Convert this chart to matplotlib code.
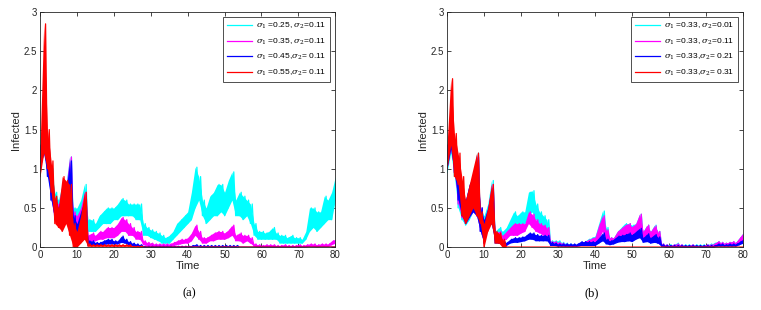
import numpy as np
import matplotlib
matplotlib.use("Agg")
from matplotlib import pyplot as plt

plt.rcParams['font.family'] = ['Liberation Sans', 'DejaVu Sans']
plt.rcParams['mathtext.fontset'] = 'dejavuserif'

# time grid (one reading per unit of time), lower / upper edge of each noisy path
time = np.arange(0, 81)

# ---------------- panel (a): sigma_2 = 0.11, sigma_1 varies
a_cyan_lo = [1.0, 1.2, 1.0, 0.6, 0.4, 0.3, 0.4, 0.4, 0.4, 0.3,
             0.2, 0.3, 0.4, 0.2, 0.2, 0.2, 0.25, 0.3, 0.3, 0.3,
             0.35, 0.35, 0.4, 0.4, 0.4, 0.4, 0.35, 0.35, 0.15, 0.15,
             0.12, 0.1, 0.08, 0.05, 0.05, 0.05, 0.1, 0.15, 0.2, 0.25,
             0.3, 0.35, 0.5, 0.6, 0.4, 0.3, 0.35, 0.4, 0.4, 0.45,
             0.4, 0.5, 0.6, 0.4, 0.4, 0.35, 0.4, 0.3, 0.15, 0.1,
             0.1, 0.1, 0.1, 0.1, 0.1, 0.05, 0.05, 0.05, 0.05, 0.05,
             0.05, 0.05, 0.1, 0.2, 0.25, 0.2, 0.25, 0.3, 0.35, 0.35,
             0.6]
a_cyan_hi = [1.3, 1.5, 1.3, 1.0, 0.7, 0.6, 0.8, 0.8, 1.15, 0.5,
             0.5, 0.6, 0.8, 0.35, 0.35, 0.3, 0.4, 0.45, 0.5, 0.5,
             0.5, 0.55, 0.62, 0.6, 0.55, 0.55, 0.55, 0.55, 0.3, 0.25,
             0.22, 0.2, 0.18, 0.15, 0.12, 0.15, 0.2, 0.3, 0.35, 0.4,
             0.45, 0.7, 1.02, 0.9, 0.6, 0.5, 0.65, 0.7, 0.8, 0.8,
             0.7, 0.85, 0.96, 0.6, 0.7, 0.65, 0.6, 0.55, 0.3, 0.2,
             0.2, 0.18, 0.2, 0.25, 0.18, 0.15, 0.15, 0.12, 0.15, 0.12,
             0.12, 0.1, 0.2, 0.5, 0.5, 0.45, 0.45, 0.65, 0.6, 0.7,
             0.9]
a_mag_lo = [1.0, 1.2, 1.0, 0.6, 0.35, 0.3, 0.35, 0.4, 0.35, 0.2,
            0.1, 0.2, 0.3, 0.05, 0.08, 0.08, 0.1, 0.1, 0.12, 0.12,
            0.12, 0.15, 0.2, 0.2, 0.15, 0.15, 0.1, 0.1, 0.03, 0.02,
            0.02, 0.01, 0.01, 0.01, 0.01, 0.01, 0.02, 0.03, 0.04, 0.05,
            0.05, 0.08, 0.15, 0.1, 0.05, 0.05, 0.08, 0.08, 0.1, 0.1,
            0.1, 0.12, 0.15, 0.08, 0.08, 0.05, 0.08, 0.05, 0.01, 0.0,
            0.0, 0.0, 0.0, 0.0, 0.0, 0.0, 0.0, 0.0, 0.0, 0.0,
            0.0, 0.0, 0.0, 0.01, 0.01, 0.0, 0.01, 0.01, 0.01, 0.03,
            0.05]
a_mag_hi = [1.3, 1.5, 1.3, 0.9, 0.6, 0.55, 0.8, 0.75, 1.15, 0.45,
            0.4, 0.5, 0.7, 0.15, 0.18, 0.15, 0.2, 0.2, 0.25, 0.25,
            0.25, 0.3, 0.38, 0.35, 0.3, 0.25, 0.2, 0.2, 0.08, 0.06,
            0.05, 0.04, 0.04, 0.04, 0.04, 0.04, 0.06, 0.08, 0.1, 0.1,
            0.12, 0.18, 0.28, 0.2, 0.12, 0.12, 0.15, 0.18, 0.2, 0.2,
            0.18, 0.22, 0.28, 0.15, 0.18, 0.15, 0.15, 0.12, 0.04, 0.03,
            0.02, 0.03, 0.03, 0.03, 0.02, 0.02, 0.03, 0.02, 0.02, 0.02,
            0.03, 0.02, 0.03, 0.04, 0.04, 0.03, 0.04, 0.04, 0.04, 0.08,
            0.1]
a_blue_lo = [1.0, 1.2, 0.9, 0.6, 0.35, 0.3, 0.3, 0.35, 0.3, 0.1,
             0.05, 0.15, 0.2, 0.02, 0.03, 0.02, 0.02, 0.03, 0.04, 0.04,
             0.04, 0.04, 0.06, 0.05, 0.03, 0.02, 0.01, 0.01, 0.0, 0.0,
             0.0, 0.0, 0.0, 0.0, 0.0, 0.0, 0.0, 0.0, 0.0, 0.0,
             0.0, 0.0, 0.01, 0.0, 0.0, 0.0, 0.0, 0.0, 0.0, 0.0,
             0.0, 0.0, 0.0, 0.0, 0.0, 0.0, 0.0, 0.0, 0.0, 0.0,
             0.0, 0.0, 0.0, 0.0, 0.0, 0.0, 0.0, 0.0, 0.0, 0.0,
             0.0, 0.0, 0.0, 0.0, 0.0, 0.0, 0.0, 0.0, 0.0, 0.0,
             0.0]
a_blue_hi = [1.3, 1.45, 1.2, 0.85, 0.6, 0.5, 0.75, 0.7, 1.1, 0.4,
             0.3, 0.45, 0.6, 0.08, 0.08, 0.06, 0.06, 0.08, 0.1, 0.1,
             0.08, 0.08, 0.14, 0.1, 0.07, 0.05, 0.04, 0.03, 0.01, 0.01,
             0.01, 0.01, 0.01, 0.01, 0.01, 0.01, 0.01, 0.01, 0.01, 0.01,
             0.01, 0.02, 0.03, 0.02, 0.02, 0.02, 0.02, 0.02, 0.02, 0.02,
             0.02, 0.02, 0.02, 0.02, 0.0, 0.0, 0.0, 0.0, 0.0, 0.0,
             0.0, 0.0, 0.0, 0.0, 0.0, 0.0, 0.0, 0.0, 0.0, 0.0,
             0.0, 0.0, 0.0, 0.0, 0.0, 0.0, 0.0, 0.0, 0.0, 0.0,
             0.0]
a_red_lo = [0.9, 1.2, 1.0, 0.7, 0.3, 0.25, 0.2, 0.3, 0.15, 0.0,
            0.0, 0.05, 0.1, 0.01, 0.01, 0.01, 0.01, 0.01, 0.01, 0.01,
            0.01, 0.01, 0.01, 0.01, 0.01, 0.0, 0.0, 0.0, 0.0, 0.0,
            0.0, 0.0, 0.0, 0.0, 0.0, 0.0, 0.0, 0.0, 0.0, 0.0,
            0.0, 0.0, 0.0, 0.0, 0.0, 0.0, 0.0, 0.0, 0.0, 0.0,
            0.0, 0.0, 0.0, 0.0, 0.0, 0.0, 0.0, 0.0, 0.0, 0.0,
            0.0, 0.0, 0.0, 0.0, 0.0, 0.0, 0.0, 0.0, 0.0, 0.0,
            0.0, 0.0, 0.0, 0.0, 0.0, 0.0, 0.0, 0.0, 0.0, 0.0,
            0.0]
a_red_hi = [1.25, 2.85, 1.5, 1.1, 0.65, 0.5, 0.9, 0.85, 0.8, 0.3,
            0.2, 0.4, 0.7, 0.04, 0.03, 0.03, 0.03, 0.03, 0.03, 0.03,
            0.03, 0.03, 0.03, 0.03, 0.03, 0.01, 0.01, 0.01, 0.0, 0.0,
            0.0, 0.0, 0.0, 0.0, 0.0, 0.0, 0.0, 0.0, 0.0, 0.0,
            0.0, 0.0, 0.0, 0.0, 0.0, 0.0, 0.0, 0.0, 0.0, 0.0,
            0.0, 0.0, 0.0, 0.0, 0.0, 0.0, 0.0, 0.0, 0.0, 0.0,
            0.0, 0.0, 0.0, 0.0, 0.0, 0.0, 0.0, 0.0, 0.0, 0.0,
            0.0, 0.0, 0.0, 0.0, 0.0, 0.0, 0.0, 0.0, 0.0, 0.0,
            0.0]

# ---------------- panel (b): sigma_1 = 0.33, sigma_2 varies
b_cyan_lo = [0.95, 1.2, 0.9, 0.5, 0.35, 0.28, 0.35, 0.45, 0.4, 0.2,
             0.05, 0.25, 0.3, 0.1, 0.12, 0.1, 0.15, 0.2, 0.25, 0.25,
             0.3, 0.3, 0.4, 0.45, 0.35, 0.3, 0.25, 0.2, 0.03, 0.03,
             0.03, 0.02, 0.02, 0.01, 0.01, 0.01, 0.02, 0.03, 0.04, 0.05,
             0.06, 0.1, 0.25, 0.1, 0.05, 0.05, 0.08, 0.1, 0.1, 0.12,
             0.1, 0.15, 0.2, 0.1, 0.1, 0.08, 0.08, 0.05, 0.01, 0.01,
             0.01, 0.01, 0.01, 0.0, 0.0, 0.0, 0.0, 0.0, 0.0, 0.0,
             0.0, 0.01, 0.01, 0.02, 0.02, 0.02, 0.02, 0.03, 0.02, 0.05,
             0.08]
b_cyan_hi = [1.3, 1.5, 1.3, 1.0, 0.7, 0.6, 0.8, 0.9, 1.2, 0.5,
             0.4, 0.55, 0.85, 0.2, 0.25, 0.2, 0.25, 0.35, 0.45, 0.4,
             0.45, 0.45, 0.7, 0.72, 0.55, 0.45, 0.4, 0.35, 0.08, 0.08,
             0.08, 0.06, 0.05, 0.04, 0.03, 0.03, 0.05, 0.07, 0.1, 0.12,
             0.14, 0.3, 0.46, 0.25, 0.12, 0.12, 0.2, 0.25, 0.3, 0.3,
             0.28, 0.3, 0.42, 0.2, 0.28, 0.2, 0.28, 0.2, 0.04, 0.03,
             0.03, 0.03, 0.05, 0.03, 0.03, 0.03, 0.03, 0.03, 0.03, 0.03,
             0.03, 0.04, 0.05, 0.07, 0.06, 0.05, 0.06, 0.07, 0.06, 0.12,
             0.18]
b_mag_lo = [1.0, 1.25, 0.95, 0.55, 0.38, 0.3, 0.38, 0.45, 0.4, 0.2,
            0.05, 0.25, 0.3, 0.08, 0.1, 0.08, 0.1, 0.15, 0.15, 0.15,
            0.18, 0.2, 0.3, 0.25, 0.2, 0.18, 0.15, 0.15, 0.03, 0.03,
            0.02, 0.02, 0.01, 0.01, 0.01, 0.01, 0.02, 0.03, 0.04, 0.05,
            0.06, 0.1, 0.2, 0.1, 0.05, 0.05, 0.08, 0.1, 0.1, 0.12,
            0.1, 0.15, 0.2, 0.1, 0.1, 0.08, 0.08, 0.05, 0.01, 0.0,
            0.0, 0.0, 0.0, 0.0, 0.0, 0.0, 0.0, 0.0, 0.0, 0.0,
            0.0, 0.0, 0.0, 0.02, 0.02, 0.02, 0.02, 0.03, 0.02, 0.05,
            0.08]
b_mag_hi = [1.3, 1.5, 1.3, 1.0, 0.7, 0.6, 0.8, 0.9, 1.18, 0.5,
            0.35, 0.5, 0.8, 0.18, 0.2, 0.15, 0.2, 0.25, 0.3, 0.3,
            0.3, 0.3, 0.45, 0.42, 0.35, 0.3, 0.28, 0.25, 0.07, 0.07,
            0.06, 0.05, 0.04, 0.03, 0.03, 0.03, 0.05, 0.07, 0.09, 0.11,
            0.13, 0.28, 0.4, 0.22, 0.12, 0.12, 0.2, 0.24, 0.28, 0.3,
            0.26, 0.3, 0.42, 0.2, 0.28, 0.2, 0.27, 0.2, 0.04, 0.03,
            0.02, 0.03, 0.04, 0.03, 0.02, 0.02, 0.03, 0.02, 0.02, 0.02,
            0.03, 0.03, 0.04, 0.07, 0.06, 0.05, 0.06, 0.07, 0.06, 0.12,
            0.18]
b_blue_lo = [1.0, 1.25, 0.95, 0.6, 0.4, 0.3, 0.38, 0.45, 0.4, 0.2,
             0.05, 0.25, 0.3, 0.05, 0.05, 0.03, 0.02, 0.05, 0.06, 0.06,
             0.07, 0.08, 0.1, 0.1, 0.08, 0.08, 0.08, 0.08, 0.02, 0.02,
             0.01, 0.01, 0.01, 0.01, 0.01, 0.01, 0.02, 0.02, 0.02, 0.02,
             0.02, 0.05, 0.08, 0.04, 0.03, 0.04, 0.06, 0.07, 0.07, 0.08,
             0.07, 0.1, 0.12, 0.06, 0.07, 0.05, 0.06, 0.05, 0.01, 0.0,
             0.0, 0.0, 0.0, 0.0, 0.0, 0.0, 0.0, 0.0, 0.0, 0.0,
             0.0, 0.0, 0.0, 0.01, 0.01, 0.01, 0.01, 0.01, 0.01, 0.03,
             0.05]
b_blue_hi = [1.3, 1.5, 1.3, 1.0, 0.7, 0.6, 0.8, 0.9, 1.15, 0.5,
             0.35, 0.5, 0.75, 0.15, 0.12, 0.08, 0.06, 0.1, 0.12, 0.12,
             0.13, 0.14, 0.18, 0.18, 0.16, 0.15, 0.15, 0.15, 0.06, 0.05,
             0.04, 0.04, 0.04, 0.04, 0.04, 0.04, 0.07, 0.07, 0.07, 0.07,
             0.07, 0.12, 0.18, 0.1, 0.08, 0.1, 0.14, 0.15, 0.16, 0.18,
             0.16, 0.2, 0.24, 0.12, 0.17, 0.12, 0.16, 0.13, 0.03, 0.02,
             0.02, 0.02, 0.02, 0.02, 0.02, 0.02, 0.02, 0.02, 0.02, 0.02,
             0.02, 0.02, 0.02, 0.04, 0.04, 0.03, 0.04, 0.04, 0.04, 0.07,
             0.1]
b_red_lo = [1.0, 1.3, 0.9, 0.8, 0.4, 0.3, 0.4, 0.5, 0.4, 0.3,
            0.0, 0.2, 0.3, 0.05, 0.05, 0.0, 0.0, 0.0, 0.0, 0.0,
            0.0, 0.0, 0.0, 0.0, 0.0, 0.0, 0.0, 0.0, 0.0, 0.0,
            0.0, 0.0, 0.0, 0.0, 0.0, 0.0, 0.0, 0.0, 0.0, 0.0,
            0.0, 0.0, 0.0, 0.0, 0.0, 0.0, 0.0, 0.0, 0.0, 0.0,
            0.0, 0.0, 0.0, 0.0, 0.0, 0.0, 0.0, 0.0, 0.0, 0.0,
            0.0, 0.0, 0.0, 0.0, 0.0, 0.0, 0.0, 0.0, 0.0, 0.0,
            0.0, 0.0, 0.0, 0.0, 0.0, 0.0, 0.0, 0.0, 0.0, 0.0,
            0.0]
b_red_hi = [1.3, 2.15, 1.45, 1.2, 0.9, 0.6, 0.8, 1.0, 1.2, 0.45,
            0.3, 0.5, 0.8, 0.2, 0.18, 0.1, 0.0, 0.0, 0.0, 0.0,
            0.0, 0.0, 0.0, 0.0, 0.0, 0.0, 0.0, 0.0, 0.0, 0.0,
            0.0, 0.0, 0.0, 0.0, 0.0, 0.0, 0.0, 0.0, 0.0, 0.0,
            0.0, 0.0, 0.0, 0.0, 0.0, 0.0, 0.0, 0.0, 0.0, 0.0,
            0.0, 0.0, 0.0, 0.0, 0.0, 0.0, 0.0, 0.0, 0.0, 0.0,
            0.0, 0.0, 0.0, 0.0, 0.0, 0.0, 0.0, 0.0, 0.0, 0.0,
            0.0, 0.0, 0.0, 0.0, 0.0, 0.0, 0.0, 0.0, 0.0, 0.0,
            0.0]

colors = ['#00FFFF', '#FF00FF', '#0000FF', '#FF0000']
labels_a = [r'$\sigma_1$ =0.25, $\sigma_2$=0.11', r'$\sigma_1$ =0.35, $\sigma_2$=0.11',
            r'$\sigma_1$ =0.45,$\sigma_2$= 0.11', r'$\sigma_1$ =0.55,$\sigma_2$= 0.11']
labels_b = [r'$\sigma_1$ =0.33, $\sigma_2$=0.01', r'$\sigma_1$ =0.33, $\sigma_2$=0.11',
            r'$\sigma_1$ =0.33,$\sigma_2$= 0.21', r'$\sigma_1$ =0.33,$\sigma_2$= 0.31']

panel_a = [(a_cyan_lo, a_cyan_hi), (a_mag_lo, a_mag_hi), (a_blue_lo, a_blue_hi), (a_red_lo, a_red_hi)]
panel_b = [(b_cyan_lo, b_cyan_hi), (b_mag_lo, b_mag_hi), (b_blue_lo, b_blue_hi), (b_red_lo, b_red_hi)]


def noisy_path(lo, hi):
    # zig-zag between the read lower and upper edge of the path
    assert len(lo) == len(time) and len(hi) == len(time)
    x = np.column_stack([time, time + 0.5]).ravel()
    y = np.column_stack([lo, hi]).ravel()
    return x, y


def draw_panel(ax, series, labels):
    for k, ((lo, hi), c, lab) in enumerate(zip(series, colors, labels)):
        x, y = noisy_path(lo, hi)
        # the band the path jitters in, then the path itself
        ax.fill_between(time, lo, hi, color=c, lw=0, zorder=2 + k)
        ax.plot(x, y, color=c, lw=0.9, label=lab, zorder=2 + k)
    ax.set_xlim(0, 80)
    ax.set_ylim(0, 3)
    ax.set_xticks(np.arange(0, 81, 10))
    ax.set_yticks([0, 0.5, 1, 1.5, 2, 2.5, 3])
    ax.set_yticklabels(['0', '0.5', '1', '1.5', '2', '2.5', '3'])
    ax.tick_params(direction='in', top=True, right=True, labelsize=7, length=3,
                   width=0.6, colors='#262626', pad=2)
    for s in ax.spines.values():
        s.set_linewidth(0.6)
        s.set_color('#262626')
        s.set_zorder(10)
    ax.set_xlabel('Time', fontsize=8, labelpad=1, color='#262626')
    ax.set_ylabel('Infected', fontsize=8, labelpad=2, color='#262626')
    leg = ax.legend(loc='upper right', fontsize=6.0, frameon=True, fancybox=False,
                    edgecolor='black', handlelength=3.0, borderpad=0.45,
                    labelspacing=0.65, borderaxespad=0.6, handletextpad=0.5)
    leg.get_frame().set_linewidth(0.6)
    leg.set_zorder(20)


fig = plt.figure(figsize=(7.61, 3.10), dpi=100)
ax_a = fig.add_axes([0.0526, 0.203, 0.388, 0.758])
ax_b = fig.add_axes([0.5874, 0.203, 0.389, 0.758])
draw_panel(ax_a, panel_a, labels_a)
draw_panel(ax_b, panel_b, labels_b)

fig.text(0.249, 0.055, '(a)', ha='center', va='center', fontsize=9, family='Liberation Serif')
fig.text(0.778, 0.055, '(b)', ha='center', va='center', fontsize=9, family='Liberation Serif')

fig.savefig('out.png', dpi=100)
